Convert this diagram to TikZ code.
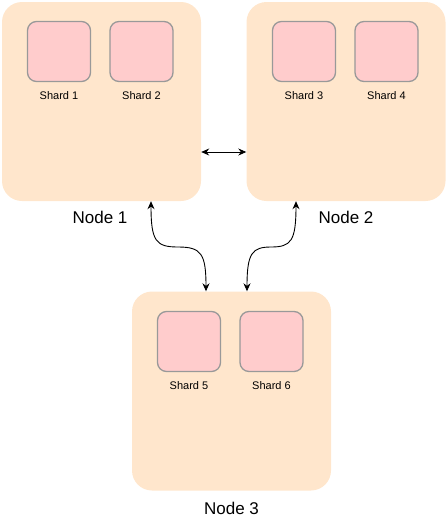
\documentclass[tikz,border=0pt]{standalone}
\usepackage{fontspec}
\setmainfont{Liberation Sans}
\usetikzlibrary{arrows.meta}
\definecolor{nodefill}{HTML}{FFE6CC}
\definecolor{shardfill}{HTML}{FFCCCC}
\definecolor{shardline}{HTML}{999999}
\begin{document}
\begin{tikzpicture}[x=1pt,y=-1pt,
  hostbox/.style={draw=none,fill=nodefill,rounded corners=20pt,minimum width=199pt,minimum height=199pt,inner sep=0pt},
  shardbox/.style={draw=shardline,line width=1.3pt,fill=shardfill,rounded corners=9pt,minimum width=63pt,minimum height=60pt,inner sep=0pt},
  shardlabel/.style={font=\fontsize{11}{13}\selectfont,inner sep=0pt},
  hostlabel/.style={font=\fontsize{17}{20}\selectfont,inner sep=0pt},
  conn/.style={line width=0.9pt,{Stealth[length=8pt,width=7pt]}-{Stealth[length=8pt,width=7pt]}}]
\useasboundingbox (0,0) rectangle (447,517);
% hosts
\node[hostbox] (n1) at (101.5,101.5) {};
\node[hostbox] (n2) at (346,101.5) {};
\node[hostbox] (n3) at (231.5,391) {};
% shards
\node[shardbox] (s1) at (59,51.5) {};
\node[shardbox] (s2) at (141.5,51.5) {};
\node[shardbox] (s3) at (304,51.5) {};
\node[shardbox] (s4) at (386.5,51.5) {};
\node[shardbox] (s5) at (189,341.5) {};
\node[shardbox] (s6) at (271.5,341.5) {};
\node[shardlabel] (l1) at (59,96) {Shard 1};
\node[shardlabel] (l2) at (141.5,96) {Shard 2};
\node[shardlabel] (l3) at (304,96) {Shard 3};
\node[shardlabel] (l4) at (386.5,96) {Shard 4};
\node[shardlabel] (l5) at (189,386) {Shard 5};
\node[shardlabel] (l6) at (271.5,386) {Shard 6};
% host labels
\node[hostlabel] (t1) at (100,217) {Node 1};
\node[hostlabel] (t2) at (346,217) {Node 2};
\node[hostlabel] (t3) at (231.5,508) {Node 3};
% connectors
\draw[conn] ([yshift=-50.5pt]n1.east) -- ([yshift=-50.5pt]n2.west);
\draw[conn] ([xshift=49.5pt]n1.south) .. controls +(0,40) and (156,247) .. (178,247) .. controls (201,247) and +(0,-38) .. ([xshift=-25.5pt]n3.north);
\draw[conn] ([xshift=-50pt]n2.south) .. controls +(0,40) and (291,247) .. (271,247) .. controls (252,247) and +(0,-38) .. ([xshift=15.5pt]n3.north);
\end{tikzpicture}
\end{document}
